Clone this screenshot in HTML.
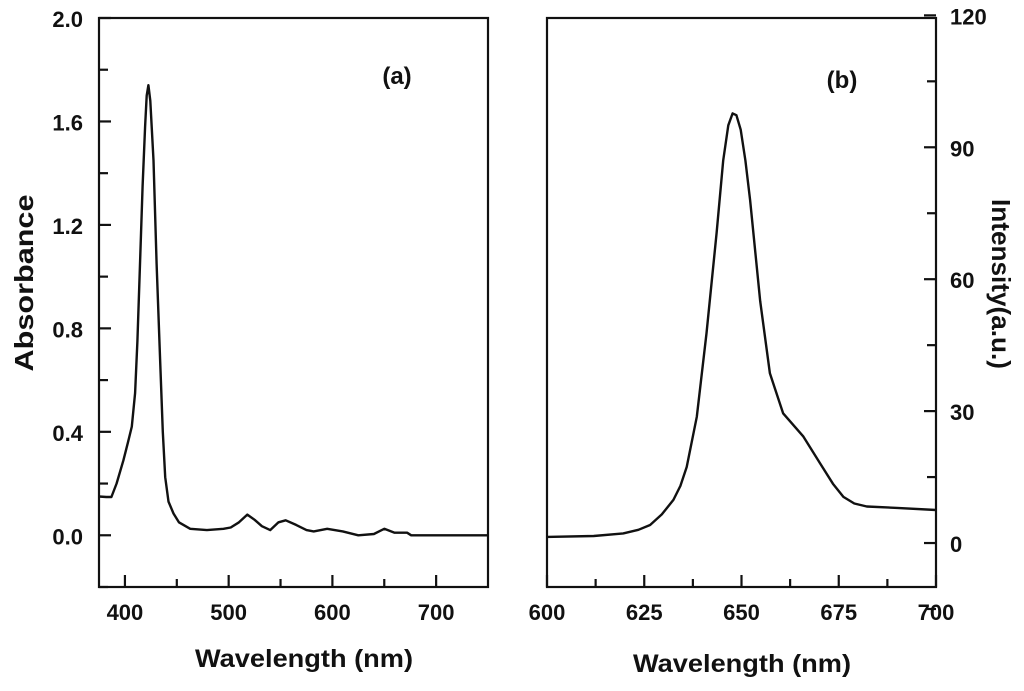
<!DOCTYPE html>
<html><head><meta charset="utf-8"><style>
body{margin:0;background:#fff}
svg{display:block;font-family:"Liberation Sans",Arial,sans-serif;font-weight:bold}
</style></head><body>
<svg id="c" width="1024" height="691" viewBox="0 0 1024 691"></svg>
<script>
const absWl=[375,382,387,392,398.5,403,406.6,409.8,412,414.6,417,419.4,421,422.6,424.5,427.5,430.5,433.9,436.5,438.8,442,446.8,452,462.9,479,495,502,510,518,525,532,540,548,555,565,575,582,595,610,625,640,650,660,672,676,750];
const absVal=[0.15,0.148,0.148,0.2,0.29,0.36,0.42,0.55,0.75,1.06,1.35,1.58,1.7,1.74,1.68,1.45,1.05,0.68,0.4,0.225,0.13,0.084,0.05,0.025,0.02,0.025,0.03,0.05,0.08,0.06,0.035,0.02,0.05,0.058,0.04,0.02,0.015,0.025,0.015,0.0,0.005,0.025,0.01,0.01,0.0,0.0];
const emWl=[600,612,619.6,623.5,626.5,629.5,632.5,634.3,635.9,638.5,641,643.6,645.3,646.6,647.7,648.7,649.8,651,652.2,654.8,657.3,660.7,665.9,670.2,673.5,676.2,679,682.2,690,700];
const emVal=[1.4,1.6,2.2,3,4.1,6.5,9.8,13,17.3,28.7,47.7,70.5,87,95,97.7,97.3,94,87,78,55,38.6,29.5,24.2,18.1,13.5,10.5,9,8.3,8,7.5];
const aXTicks=[400,500,600,700], aYTicks=[0,0.4,0.8,1.2,1.6,2.0], aYMinor=[-0.2,0.2,0.6,1.0,1.4,1.8];
const bXTicks=[600,625,650,675,700], bYTicks=[0,30,60,90,120], bYMinor=[-15,15,45,75,105];
const NS="http://www.w3.org/2000/svg", svgRoot=document.getElementById('c');
function el(t,a,txt){const e=document.createElementNS(NS,t);for(const k in a)e.setAttribute(k,a[k]);if(txt!==undefined)e.textContent=txt;svgRoot.appendChild(e);return e;}
const plotTop=18,plotBot=587;
function panel(x0,x1,xmin,xmax,ymin,ymax,xs,ys,xticks,minor,yticks,yminor,yfmt,rightAxis,name){
  const X=v=>x0+(v-xmin)/(xmax-xmin)*(x1-x0), Y=v=>plotBot-(v-ymin)/(ymax-ymin)*(plotBot-plotTop);
  let f=el('rect',{x:x0,y:plotTop,width:x1-x0,height:plotBot-plotTop,fill:'none',stroke:'#111','stroke-width':2.2});
  
  
  xticks.forEach(t=>{let l=el('line',{x1:X(t),x2:X(t),y1:plotBot,y2:plotBot-12,stroke:'#111','stroke-width':2.2});
    
    
    let tx=el('text',{x:X(t),y:620,'text-anchor':'middle','font-size':22,fill:'#111'},String(t));
    
    });
  minor.forEach(t=>{let l=el('line',{x1:X(t),x2:X(t),y1:plotBot,y2:plotBot-8,stroke:'#111','stroke-width':2.2});
    
    });
  const ax=rightAxis?x1:x0, sg=rightAxis?-1:1;
  yticks.forEach(t=>{
    let l=el('line',{x1:ax,x2:ax+12*sg,y1:Y(t),y2:Y(t),stroke:'#111','stroke-width':2.2});
    
    
    let tx=el('text',{x:rightAxis?x1+14:x0-16,y:Y(t)+9,'text-anchor':rightAxis?'start':'end','font-size':22,fill:'#111'},yfmt(t));
    
    });
  yminor.forEach(t=>{
    let l=el('line',{x1:ax,x2:ax+9*sg,y1:Y(t),y2:Y(t),stroke:'#111','stroke-width':2.2});
    
    });
  let d=xs.map((v,i)=>(i?'L':'M')+X(v).toFixed(1)+' '+Y(ys[i]).toFixed(1)).join(' ');
  let p=el('path',{d:d,fill:'none',stroke:'#111','stroke-width':2.4,'stroke-linejoin':'round'});
  
  
}
panel(99,488,375,750,-0.2,2.0,absWl,absVal,aXTicks,[450,550,650],aYTicks,aYMinor,v=>v.toFixed(1),false,'absorbance');
panel(547,936,600,700,-10,119.4,emWl,emVal,bXTicks,[612.5,637.5,662.5,687.5],bYTicks,bYMinor,v=>String(v),true,'emission');
let t;
t=el('text',{x:397,y:84,'text-anchor':'middle','font-size':24,fill:'#111'},'(a)');


t=el('text',{x:842,y:88,'text-anchor':'middle','font-size':24,fill:'#111'},'(b)');


t=el('text',{x:304,y:667,'text-anchor':'middle','font-size':25,fill:'#111',textLength:218,lengthAdjust:'spacingAndGlyphs'},'Wavelength (nm)');


t=el('text',{x:742,y:672,'text-anchor':'middle','font-size':25,fill:'#111',textLength:218,lengthAdjust:'spacingAndGlyphs'},'Wavelength (nm)');


t=el('text',{x:0,y:0,'text-anchor':'middle','font-size':26,fill:'#111',textLength:177,lengthAdjust:'spacingAndGlyphs',transform:'translate(33,283) rotate(-90)'},'Absorbance');


t=el('text',{x:0,y:0,'text-anchor':'middle','font-size':26,fill:'#111',textLength:170,lengthAdjust:'spacingAndGlyphs',transform:'translate(992,284) rotate(90)'},'Intensity(a.u.)');


</script>
</body></html>
